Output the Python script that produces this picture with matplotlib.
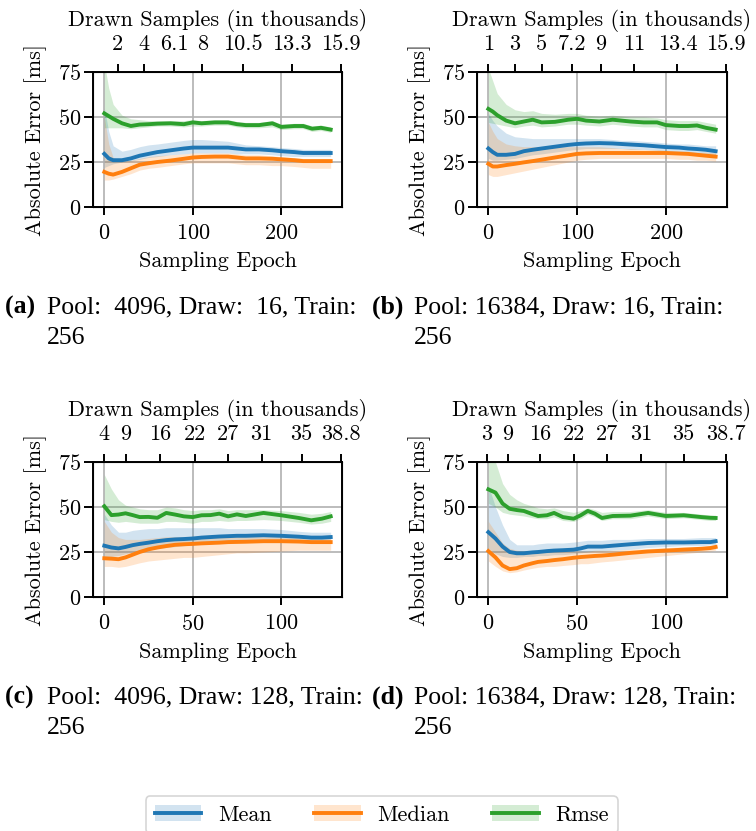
import matplotlib
matplotlib.use("Agg")
import matplotlib.pyplot as plt
from matplotlib.lines import Line2D
from matplotlib.patches import Patch

plt.rcParams['font.family'] = ['cmr10', 'DejaVu Serif']
plt.rcParams['axes.formatter.use_mathtext'] = True
plt.rcParams['font.size'] = 16

BLUE, ORANGE, GREEN = '#1f77b4', '#ff7f0e', '#2ca02c'

# ---- panel (a): pool 4096, draw 16
x_a = [0, 5, 10, 20, 30, 40, 50, 60, 75, 90, 100, 110, 125, 140, 150, 160, 175, 190, 200, 215, 225, 235, 245, 256]
mean_a = [29.5, 27, 26, 26, 27, 28.5, 29.5, 30.5, 31.5, 32.5, 33, 33, 33, 33, 32.5, 32, 32, 31.5, 31, 30.5, 30, 30, 30, 30]
mean_a_lo = [22, 23, 24, 25, 25.5, 26.5, 27.5, 28, 29, 29.5, 30, 30, 30, 30, 29.5, 29.5, 29.5, 29, 28.5, 28, 28, 28, 28, 28]
mean_a_hi = [55, 42, 34, 31, 32, 33.5, 34.5, 35, 36, 37, 37.5, 37.5, 37, 36.5, 35.5, 34.5, 34, 33.5, 33, 32.5, 32, 32, 32, 32]
med_a = [19.5, 18.5, 18, 19.5, 21.5, 23.5, 24.3, 25, 25.8, 26.8, 27.5, 27.8, 28, 28, 27.5, 27, 27, 26.8, 26.5, 26, 25.5, 25.5, 25.5, 25.5]
med_a_lo = [15, 15, 15.5, 17, 18.5, 20.5, 21.5, 22, 23, 24, 24.5, 24.5, 24.5, 24.5, 24, 23.5, 23.5, 23, 23, 22.5, 22, 21.5, 21.5, 21.5]
med_a_hi = [50, 35, 27.5, 25.5, 26, 27, 28, 28.5, 29, 29.5, 30, 30, 30, 30, 29.5, 29, 29, 28.5, 28, 27.5, 27, 27, 27, 27]
rmse_a = [52, 50.5, 49, 46.5, 45, 45.8, 46, 46.3, 46.5, 46, 47, 46.5, 47, 47, 46, 45.5, 45.5, 46.5, 44.5, 45, 45, 43.5, 44, 43]
rmse_a_lo = [44, 44, 44, 44, 43.5, 44, 44.5, 45, 45, 44.5, 45, 45, 45.5, 45.5, 44.5, 44, 44, 44.5, 43, 43.5, 43.5, 42, 42.5, 41.5]
rmse_a_hi = [80, 66, 57, 51, 49, 48.5, 48, 48, 48, 48, 48.5, 48, 48.5, 48.5, 47.5, 47, 47, 48, 46, 46.5, 46.5, 45, 45.5, 44.5]
top_pos_a = [15, 45, 79, 111, 157, 212, 268]
top_lab_a = ['2', '4', '6.1', '8', '10.5', '13.3', '15.9']

# ---- panel (b): pool 16384, draw 16
x_b = x_a
mean_b = [32.5, 30.5, 29, 29, 29.5, 31, 31.8, 32.5, 33.5, 34.5, 35, 35.3, 35.5, 35.3, 35, 34.7, 34.3, 33.7, 33.3, 33, 32.5, 32.2, 31.8, 31]
mean_b_lo = [27, 26, 26, 26.5, 27, 28, 29, 29.5, 30.5, 31.5, 32, 32.5, 32.5, 32.5, 32.5, 32, 32, 31.5, 31, 30.5, 30, 29.5, 29, 28.5]
mean_b_hi = [52, 48, 45, 41, 39, 38.5, 38, 38, 38, 38, 38, 38, 38, 37.5, 37, 37, 36.5, 36, 35.5, 35, 35, 34.5, 34, 34]
med_b = [24, 22.5, 22.5, 23.3, 24, 24.8, 25.5, 26.3, 27.5, 28.7, 29.5, 29.8, 30, 30, 30, 30, 30, 30, 30, 29.7, 29.5, 29, 28.5, 28]
med_b_lo = [18, 17, 17, 18, 19, 20, 21, 22, 23.5, 25, 26, 26.5, 27, 27, 27, 27, 27, 27, 27, 26.5, 26.5, 26, 26, 25.5]
med_b_hi = [47, 42, 38, 35, 34, 33.5, 33.5, 33.5, 33.5, 33.5, 33.5, 33.5, 33.5, 33, 32.5, 32.5, 32, 32, 31.5, 31, 31, 30.5, 30.5, 30]
rmse_b = [54.5, 53, 51, 48, 46.5, 47.5, 48.5, 47, 47.3, 48.5, 49, 48, 47.5, 48.5, 48, 47.5, 47, 47, 45.5, 45, 45, 45.3, 44, 43]
rmse_b_lo = [47, 46.5, 46, 45, 44, 45, 45.5, 44.5, 45, 46, 46, 45.5, 45, 46, 45.5, 45, 44.5, 44.5, 43, 42.5, 42.5, 43, 42, 41]
rmse_b_hi = [77, 70, 63, 57, 54, 53, 53.5, 52, 51.5, 52, 52, 51, 50.5, 51, 50.5, 50, 50, 49.5, 48.5, 48, 48, 48, 47, 46]
top_pos_b = [0, 30, 60, 94, 127, 164, 213, 268]
top_lab_b = ['1', '3', '5', '7.2', '9', '11', '13.4', '15.9']

# ---- panel (c): pool 4096, draw 128
x_c = [0, 4, 8, 12, 16, 20, 25, 30, 35, 40, 45, 50, 55, 60, 65, 70, 75, 80, 90, 100, 110, 117, 123, 128]
mean_c = [28.5, 27.5, 27, 27.8, 28.8, 29.5, 30.2, 31, 31.6, 32, 32.2, 32.5, 33, 33.3, 33.6, 33.8, 34, 34, 34.3, 34, 33.5, 33, 33, 33.3]
mean_c_lo = [22, 22.5, 23, 24, 25, 25.5, 26, 27, 27.5, 28, 28.5, 29, 29.5, 29.5, 30, 30, 30.5, 30.5, 31, 31, 30.5, 30, 30, 30.5]
mean_c_hi = [46, 40, 36, 36, 37, 37.5, 38, 38, 38.5, 38.5, 38.5, 38.5, 38.5, 38.5, 38.5, 38, 38, 38, 38, 37.5, 36.5, 36, 36, 36]
med_c = [21.5, 21.3, 21, 22, 23.5, 25, 26.5, 27.5, 28.3, 29, 29.3, 29.5, 29.8, 30, 30.2, 30.5, 30.6, 30.7, 31, 31, 30.8, 30.5, 30.5, 30.5]
med_c_lo = [17, 17, 16.5, 17, 18, 19, 20, 20.5, 21, 21.5, 22, 22, 22.5, 23, 23.5, 24, 24.5, 24.5, 25, 25.5, 26, 26, 26, 26]
med_c_hi = [42, 36, 33, 32, 32, 32, 32.5, 33, 33.5, 33.5, 33.5, 33.5, 33.5, 33.5, 33.5, 33.5, 33.5, 33.5, 33.5, 33.5, 33, 32.5, 32.5, 32.5]
rmse_c = [50.4, 45.5, 45.8, 46.5, 45.5, 44.4, 44.5, 44, 46.7, 45.8, 44.8, 44.4, 45.4, 45.5, 46.3, 44.8, 45.9, 45, 46.7, 45.4, 43.9, 42.6, 43.5, 44.8]
rmse_c_lo = [43, 42, 41.5, 42, 41.5, 41, 41, 41, 42, 42, 41.5, 41, 42, 42, 42.5, 42, 42.5, 42.5, 43, 42.5, 41.5, 40.5, 41, 42]
rmse_c_hi = [68, 60, 54, 51, 50, 49, 48.5, 48.5, 50, 49.5, 48.5, 48, 48.5, 48.5, 49, 48, 48.5, 48.5, 48.5, 48, 47, 46, 46.5, 47.5]
top_pos_c = [0, 12, 31.5, 51, 70, 89, 111.5, 134]
top_lab_c = ['4', '9', '16', '22', '27', '31', '35', '38.8']

# ---- panel (d): pool 16384, draw 128
x_d = [0, 4, 8, 12, 16, 20, 25, 28, 33, 37, 42, 48, 52, 56, 60, 64, 70, 80, 90, 100, 110, 120, 125, 128]
mean_d = [36, 32.5, 28, 25, 24.3, 24.3, 24.8, 25, 25.5, 25.8, 26, 26.3, 27, 28, 28, 28, 28.5, 29.3, 30, 30.3, 30.3, 30.5, 30.5, 31]
mean_d_lo = [27, 24, 22.5, 22, 22, 22.5, 22.5, 23, 23, 23.5, 23.5, 24, 24.5, 25, 25.5, 25.5, 26, 26.5, 27.5, 28, 28.5, 28.5, 29, 29]
mean_d_hi = [62, 50, 40, 32, 29, 29, 29, 29.5, 30, 30, 30, 30.5, 31, 31.5, 31.5, 31.5, 32, 32, 32.5, 32.5, 32.5, 33, 33, 33]
med_d = [25.5, 22, 17.5, 15.5, 16, 17.5, 18.8, 19.5, 20, 20.5, 21, 21.8, 22.2, 22.5, 22.8, 23, 23.5, 24.5, 25.3, 25.8, 26.3, 26.8, 27.2, 27.8]
med_d_lo = [20, 17, 14.5, 13.5, 14, 15, 16, 16.5, 17, 17, 17.5, 18, 18.5, 18.5, 19, 19.5, 20, 21, 22, 23, 24, 25, 25.5, 26]
med_d_hi = [42, 36, 30, 27, 26, 25.5, 25.5, 25.5, 25.5, 25.5, 25.5, 25.5, 25.5, 25.5, 26, 26, 26, 26.5, 27, 27.5, 28, 28, 28.5, 29]
rmse_d = [59.8, 58, 51.9, 49, 48.3, 47.8, 46, 45, 45.4, 46.7, 44.4, 43.5, 45.4, 47.8, 46.3, 43.9, 45, 45.2, 46.7, 45, 45.4, 44.4, 44, 43.9]
rmse_d_lo = [52, 50, 47, 46, 45.5, 45, 44, 43.5, 43.5, 44.5, 42.5, 42, 43.5, 46, 44.5, 42.5, 43.5, 43.5, 45, 43.5, 44, 43, 42.5, 42.5]
rmse_d_hi = [82, 75, 63, 57, 54, 52, 50.5, 49.5, 49, 49.5, 48, 47, 48, 49.5, 48.5, 47, 47.5, 47.5, 48.5, 47, 47, 46, 45.5, 45.5]
top_pos_d = [-1, 11, 29, 48, 67, 86, 110, 134]
top_lab_d = ['3', '9', '16', '22', '27', '31', '35', '38.7']

captions = ['Pool:  4096, Draw:  16, Train:', 'Pool: 16384, Draw: 16, Train:',
            'Pool:  4096, Draw: 128, Train:', 'Pool: 16384, Draw: 128, Train:']
tags = ['(a)', '(b)', '(c)', '(d)']

panels = [
    (x_a, [(mean_a, mean_a_lo, mean_a_hi), (med_a, med_a_lo, med_a_hi), (rmse_a, rmse_a_lo, rmse_a_hi)], top_pos_a, top_lab_a, [0, 100, 200]),
    (x_b, [(mean_b, mean_b_lo, mean_b_hi), (med_b, med_b_lo, med_b_hi), (rmse_b, rmse_b_lo, rmse_b_hi)], top_pos_b, top_lab_b, [0, 100, 200]),
    (x_c, [(mean_c, mean_c_lo, mean_c_hi), (med_c, med_c_lo, med_c_hi), (rmse_c, rmse_c_lo, rmse_c_hi)], top_pos_c, top_lab_c, [0, 50, 100]),
    (x_d, [(mean_d, mean_d_lo, mean_d_hi), (med_d, med_d_lo, med_d_hi), (rmse_d, rmse_d_lo, rmse_d_hi)], top_pos_d, top_lab_d, [0, 50, 100]),
]

W, H = 756, 831
fig = plt.figure(figsize=(W / 100, H / 100), dpi=100)

# axes boxes in pixels: left, top, right, bottom
boxes = [(93, 72, 342, 207), (477, 72, 727, 207), (93, 462, 342, 597), (477, 462, 727, 597)]
cap_xy = [(5, 307), (372, 307), (5, 697), (372, 697)]
colors = [BLUE, ORANGE, GREEN]

for i, (xs, series, tpos, tlab, bticks) in enumerate(panels):
    l, t, r, b = boxes[i]
    ax = fig.add_axes([l / W, 1 - b / H, (r - l) / W, (b - t) / H])
    for (m, lo, hi), c in zip(series, colors):
        ax.fill_between(xs, lo, hi, color=c, alpha=0.2, linewidth=0)
        ax.plot(xs, m, color=c, linewidth=2.8)
    ax.set_ylim(0, 75)
    ax.set_yticks([0, 25, 50, 75])
    ax.set_xticks(bticks)
    ax.grid(True, color='#b0b0b0', linewidth=1.2)
    ax.set_axisbelow(True)
    ax.set_xlabel('Sampling Epoch', labelpad=6)
    ax.set_ylabel('Absolute Error [ms]', labelpad=8)
    for s in ax.spines.values():
        s.set_linewidth(1.4)
    ax.tick_params(axis='x', width=1.4, length=6, pad=6)
    ax.tick_params(axis='y', width=1.4, length=6.5, pad=2)

    top = ax.twiny()
    top.set_xlim(ax.get_xlim())
    top.set_xticks(tpos)
    top.set_xticklabels(tlab)
    top.tick_params(width=1.4, length=6, pad=7)
    top.set_xlabel('Drawn Samples (in thousands)', labelpad=6)

    cx, cy = cap_xy[i]
    fig.text(cx / W, 1 - cy / H, tags[i] + ' ', fontsize=18.5, fontweight='bold',
             family='Liberation Serif', va='center', ha='left')
    fig.text((cx + 42) / W, 1 - cy / H, captions[i], fontsize=18.5,
             family='Liberation Serif', va='center', ha='left')
    fig.text((cx + 42) / W, 1 - (cy + 31) / H, '256', fontsize=18.5,
             family='Liberation Serif', va='center', ha='left')

handles = [(Patch(color=c, alpha=0.2, linewidth=0), Line2D([], [], color=c, linewidth=2.8)) for c in colors]
leg = fig.legend(handles, ['Mean', 'Median', 'Rmse'], loc='upper center',
                 bbox_to_anchor=(0.505, 1 - 785 / H), ncol=3, frameon=True,
                 handlelength=2.1, columnspacing=1.9, handletextpad=0.75,
                 fontsize=16, borderpad=0.4)
leg.get_frame().set_edgecolor('#cccccc')
leg.get_frame().set_linewidth(1.2)

fig.savefig('out.png', dpi=100)
